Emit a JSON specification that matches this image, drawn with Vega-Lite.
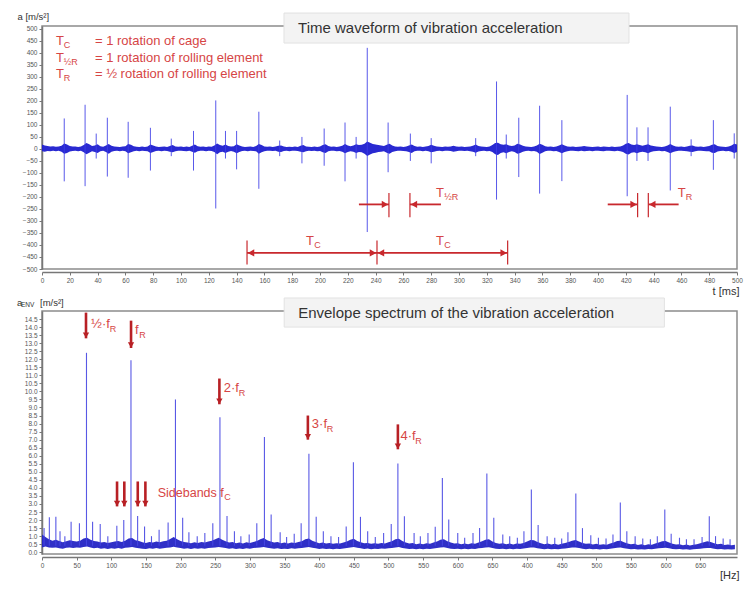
{
  "$schema": "https://vega.github.io/schema/vega-lite/v6.json",
  "background": "white",
  "padding": {"left": 16, "top": 10, "right": 5, "bottom": 5},
  "spacing": 42,
  "bounds": "flush",
  "config": {
    "view": {"stroke": "#8c8c8c", "strokeWidth": 1.5},
    "axis": {
      "grid": false,
      "labelFont": "Liberation Sans",
      "labelFontSize": 6.5,
      "labelColor": "#555555",
      "labelOverlap": false,
      "labelFlush": false,
      "tickColor": "#777777",
      "tickSize": 3,
      "tickCount": 200,
      "labelPadding": 2,
      "domainColor": "#777777",
      "domainWidth": 1.5,
      "titleFont": "Liberation Sans",
      "titleFontSize": 10,
      "titleFontWeight": "normal",
      "titleColor": "#333333"
    },
    "text": {"font": "Liberation Sans"}
  },
  "datasets": {
    "noise": [
      {"t":0,"lo":-10,"hi":18},{"t":2,"lo":-12,"hi":14},{"t":4,"lo":-9,"hi":12},{"t":6,"lo":-10,"hi":10},{"t":8,"lo":-8,"hi":11},
      {"t":10,"lo":-10,"hi":9},{"t":12,"lo":-8,"hi":10},{"t":14,"lo":-12,"hi":13},{"t":16,"lo":-20,"hi":23},{"t":18,"lo":-17,"hi":18},
      {"t":20,"lo":-11,"hi":12},{"t":22,"lo":-9,"hi":10},{"t":24,"lo":-8,"hi":10},{"t":26,"lo":-10,"hi":8},{"t":28,"lo":-8,"hi":10},
      {"t":30,"lo":-14,"hi":16},{"t":32,"lo":-22,"hi":25},{"t":34,"lo":-16,"hi":20},{"t":36,"lo":-10,"hi":12},{"t":38,"lo":-13,"hi":14},
      {"t":40,"lo":-17,"hi":20},{"t":42,"lo":-10,"hi":11},{"t":44,"lo":-8,"hi":9},{"t":46,"lo":-13,"hi":14},{"t":48,"lo":-20,"hi":21},
      {"t":50,"lo":-12,"hi":13},{"t":52,"lo":-9,"hi":10},{"t":54,"lo":-8,"hi":9},{"t":56,"lo":-10,"hi":8},{"t":58,"lo":-8,"hi":10},
      {"t":60,"lo":-10,"hi":11},{"t":62,"lo":-18,"hi":21},{"t":64,"lo":-14,"hi":17},{"t":66,"lo":-10,"hi":11},{"t":68,"lo":-8,"hi":9},
      {"t":70,"lo":-10,"hi":8},{"t":72,"lo":-8,"hi":10},{"t":74,"lo":-9,"hi":8},{"t":76,"lo":-10,"hi":10},{"t":78,"lo":-17,"hi":18},
      {"t":80,"lo":-13,"hi":14},{"t":82,"lo":-9,"hi":10},{"t":84,"lo":-8,"hi":8},{"t":86,"lo":-10,"hi":9},{"t":88,"lo":-8,"hi":10},
      {"t":90,"lo":-9,"hi":8},{"t":92,"lo":-12,"hi":12},{"t":94,"lo":-14,"hi":16},{"t":96,"lo":-10,"hi":10},{"t":98,"lo":-8,"hi":9},
      {"t":100,"lo":-8,"hi":10},{"t":102,"lo":-9,"hi":8},{"t":104,"lo":-10,"hi":10},{"t":106,"lo":-8,"hi":8},{"t":108,"lo":-12,"hi":13},
      {"t":110,"lo":-16,"hi":18},{"t":112,"lo":-10,"hi":11},{"t":114,"lo":-8,"hi":9},{"t":116,"lo":-8,"hi":10},{"t":118,"lo":-10,"hi":8},
      {"t":120,"lo":-8,"hi":10},{"t":122,"lo":-9,"hi":9},{"t":124,"lo":-13,"hi":14},{"t":126,"lo":-22,"hi":23},{"t":128,"lo":-14,"hi":16},
      {"t":130,"lo":-12,"hi":13},{"t":132,"lo":-17,"hi":18},{"t":134,"lo":-12,"hi":12},{"t":136,"lo":-9,"hi":10},{"t":138,"lo":-12,"hi":11},
      {"t":140,"lo":-18,"hi":20},{"t":142,"lo":-13,"hi":14},{"t":144,"lo":-9,"hi":10},{"t":146,"lo":-8,"hi":8},{"t":148,"lo":-10,"hi":9},
      {"t":150,"lo":-8,"hi":10},{"t":152,"lo":-9,"hi":8},{"t":154,"lo":-10,"hi":12},{"t":156,"lo":-20,"hi":21},{"t":158,"lo":-14,"hi":16},
      {"t":160,"lo":-10,"hi":10},{"t":162,"lo":-8,"hi":9},{"t":164,"lo":-8,"hi":10},{"t":166,"lo":-9,"hi":8},{"t":168,"lo":-8,"hi":10},
      {"t":170,"lo":-12,"hi":13},{"t":172,"lo":-13,"hi":14},{"t":174,"lo":-9,"hi":10},{"t":176,"lo":-8,"hi":8},{"t":178,"lo":-10,"hi":9},
      {"t":180,"lo":-8,"hi":8},{"t":182,"lo":-8,"hi":10},{"t":184,"lo":-9,"hi":8},{"t":186,"lo":-12,"hi":13},{"t":188,"lo":-14,"hi":16},
      {"t":190,"lo":-10,"hi":10},{"t":192,"lo":-8,"hi":9},{"t":194,"lo":-9,"hi":8},{"t":196,"lo":-8,"hi":10},{"t":198,"lo":-10,"hi":8},
      {"t":200,"lo":-9,"hi":10},{"t":202,"lo":-14,"hi":16},{"t":204,"lo":-17,"hi":20},{"t":206,"lo":-10,"hi":12},{"t":208,"lo":-8,"hi":9},
      {"t":210,"lo":-8,"hi":10},{"t":212,"lo":-10,"hi":8},{"t":214,"lo":-9,"hi":10},{"t":216,"lo":-12,"hi":13},{"t":218,"lo":-18,"hi":21},
      {"t":220,"lo":-13,"hi":14},{"t":222,"lo":-10,"hi":11},{"t":224,"lo":-12,"hi":14},{"t":226,"lo":-17,"hi":20},{"t":228,"lo":-13,"hi":16},
      {"t":230,"lo":-14,"hi":17},{"t":232,"lo":-20,"hi":22},{"t":234,"lo":-29,"hi":31},{"t":236,"lo":-23,"hi":26},{"t":238,"lo":-18,"hi":21},
      {"t":240,"lo":-16,"hi":18},{"t":242,"lo":-13,"hi":16},{"t":244,"lo":-12,"hi":14},{"t":246,"lo":-10,"hi":12},{"t":248,"lo":-16,"hi":17},
      {"t":250,"lo":-20,"hi":22},{"t":252,"lo":-13,"hi":14},{"t":254,"lo":-10,"hi":10},{"t":256,"lo":-8,"hi":9},{"t":258,"lo":-8,"hi":10},
      {"t":260,"lo":-9,"hi":8},{"t":262,"lo":-10,"hi":10},{"t":264,"lo":-13,"hi":14},{"t":266,"lo":-17,"hi":18},{"t":268,"lo":-10,"hi":12},
      {"t":270,"lo":-8,"hi":9},{"t":272,"lo":-8,"hi":10},{"t":274,"lo":-10,"hi":8},{"t":276,"lo":-8,"hi":10},{"t":278,"lo":-10,"hi":12},
      {"t":280,"lo":-14,"hi":17},{"t":282,"lo":-12,"hi":13},{"t":284,"lo":-9,"hi":10},{"t":286,"lo":-8,"hi":9},{"t":288,"lo":-10,"hi":8},
      {"t":290,"lo":-8,"hi":10},{"t":292,"lo":-8,"hi":9},{"t":294,"lo":-9,"hi":10},{"t":296,"lo":-12,"hi":13},{"t":298,"lo":-10,"hi":10},
      {"t":300,"lo":-8,"hi":9},{"t":302,"lo":-8,"hi":10},{"t":304,"lo":-9,"hi":8},{"t":306,"lo":-8,"hi":9},{"t":308,"lo":-10,"hi":10},
      {"t":310,"lo":-12,"hi":13},{"t":312,"lo":-16,"hi":18},{"t":314,"lo":-11,"hi":12},{"t":316,"lo":-9,"hi":10},{"t":318,"lo":-8,"hi":9},
      {"t":320,"lo":-10,"hi":8},{"t":322,"lo":-9,"hi":10},{"t":324,"lo":-13,"hi":16},{"t":326,"lo":-22,"hi":25},{"t":328,"lo":-25,"hi":26},
      {"t":330,"lo":-17,"hi":20},{"t":332,"lo":-14,"hi":17},{"t":334,"lo":-18,"hi":20},{"t":336,"lo":-13,"hi":14},{"t":338,"lo":-10,"hi":12},
      {"t":340,"lo":-13,"hi":14},{"t":342,"lo":-20,"hi":22},{"t":344,"lo":-17,"hi":18},{"t":346,"lo":-12,"hi":13},{"t":348,"lo":-9,"hi":10},
      {"t":350,"lo":-8,"hi":9},{"t":352,"lo":-10,"hi":8},{"t":354,"lo":-9,"hi":10},{"t":356,"lo":-12,"hi":14},{"t":358,"lo":-21,"hi":22},
      {"t":360,"lo":-16,"hi":17},{"t":362,"lo":-10,"hi":11},{"t":364,"lo":-8,"hi":9},{"t":366,"lo":-8,"hi":10},{"t":368,"lo":-10,"hi":8},
      {"t":370,"lo":-9,"hi":10},{"t":372,"lo":-13,"hi":14},{"t":374,"lo":-18,"hi":20},{"t":376,"lo":-13,"hi":14},{"t":378,"lo":-10,"hi":10},
      {"t":380,"lo":-8,"hi":9},{"t":382,"lo":-8,"hi":10},{"t":384,"lo":-9,"hi":8},{"t":386,"lo":-10,"hi":9},{"t":388,"lo":-8,"hi":10},
      {"t":390,"lo":-10,"hi":12},{"t":392,"lo":-9,"hi":10},{"t":394,"lo":-8,"hi":9},{"t":396,"lo":-10,"hi":8},{"t":398,"lo":-8,"hi":9},
      {"t":400,"lo":-8,"hi":10},{"t":402,"lo":-9,"hi":8},{"t":404,"lo":-10,"hi":10},{"t":406,"lo":-8,"hi":9},{"t":408,"lo":-8,"hi":8},
      {"t":410,"lo":-9,"hi":10},{"t":412,"lo":-10,"hi":8},{"t":414,"lo":-8,"hi":9},{"t":416,"lo":-10,"hi":10},{"t":418,"lo":-13,"hi":14},
      {"t":420,"lo":-20,"hi":22},{"t":422,"lo":-23,"hi":25},{"t":424,"lo":-16,"hi":18},{"t":426,"lo":-14,"hi":16},{"t":428,"lo":-18,"hi":20},
      {"t":430,"lo":-14,"hi":16},{"t":432,"lo":-12,"hi":13},{"t":434,"lo":-14,"hi":16},{"t":436,"lo":-18,"hi":20},{"t":438,"lo":-13,"hi":14},
      {"t":440,"lo":-10,"hi":12},{"t":442,"lo":-9,"hi":10},{"t":444,"lo":-8,"hi":9},{"t":446,"lo":-10,"hi":8},{"t":448,"lo":-9,"hi":10},
      {"t":450,"lo":-13,"hi":14},{"t":452,"lo":-18,"hi":21},{"t":454,"lo":-13,"hi":14},{"t":456,"lo":-10,"hi":10},{"t":458,"lo":-8,"hi":9},
      {"t":460,"lo":-8,"hi":10},{"t":462,"lo":-9,"hi":8},{"t":464,"lo":-10,"hi":10},{"t":466,"lo":-12,"hi":13},{"t":468,"lo":-13,"hi":14},
      {"t":470,"lo":-10,"hi":10},{"t":472,"lo":-8,"hi":9},{"t":474,"lo":-8,"hi":10},{"t":476,"lo":-9,"hi":8},{"t":478,"lo":-10,"hi":10},
      {"t":480,"lo":-10,"hi":12},{"t":482,"lo":-16,"hi":17},{"t":484,"lo":-17,"hi":20},{"t":486,"lo":-11,"hi":12},{"t":488,"lo":-9,"hi":10},
      {"t":490,"lo":-8,"hi":9},{"t":492,"lo":-10,"hi":8},{"t":494,"lo":-9,"hi":10},{"t":496,"lo":-12,"hi":14},{"t":498,"lo":-17,"hi":22},
      {"t":500,"lo":-13,"hi":18}
    ],
    "spikes": [
      {"t":16,"lo":-135,"hi":127},{"t":31,"lo":-155,"hi":184},{"t":39,"lo":-40,"hi":64},{"t":47,"lo":-115,"hi":130},
      {"t":62,"lo":-120,"hi":113},{"t":78,"lo":-90,"hi":88},{"t":93,"lo":-30,"hi":43},{"t":109,"lo":-90,"hi":75},
      {"t":125,"lo":-248,"hi":202},{"t":132,"lo":-40,"hi":75},{"t":140,"lo":-85,"hi":75},{"t":156,"lo":-166,"hi":155},
      {"t":171,"lo":-30,"hi":35},{"t":187,"lo":-60,"hi":50},{"t":203,"lo":-70,"hi":85},{"t":218,"lo":-135,"hi":110},
      {"t":226,"lo":-40,"hi":50},{"t":234,"lo":-346,"hi":421},{"t":249,"lo":-97,"hi":110},{"t":265,"lo":-50,"hi":64},
      {"t":280,"lo":-60,"hi":45},{"t":312,"lo":-30,"hi":45},{"t":327,"lo":-211,"hi":281},{"t":334,"lo":-40,"hi":60},
      {"t":343,"lo":-117,"hi":130},{"t":358,"lo":-186,"hi":180},{"t":374,"lo":-134,"hi":120},{"t":421,"lo":-197,"hi":225},
      {"t":428,"lo":-50,"hi":90},{"t":436,"lo":-50,"hi":90},{"t":452,"lo":-173,"hi":176},{"t":467,"lo":-30,"hi":40},
      {"t":483,"lo":-87,"hi":120},{"t":498,"lo":-40,"hi":65}
    ],
    "topShafts": [
      {"t1":147.5,"t2":335,"a":-433},
      {"t1":228,"t2":249.6,"a":-231},{"t1":264.7,"t2":287,"a":-231},
      {"t1":407,"t2":428.5,"a":-231},{"t1":436.2,"t2":458,"a":-231}
    ],
    "topTicks": [
      {"t":147.5,"a1":-381,"a2":-481},{"t":241,"a1":-381,"a2":-481},{"t":335,"a1":-381,"a2":-481},
      {"t":249.6,"a1":-183,"a2":-284},{"t":264.7,"a1":-183,"a2":-284},
      {"t":428.5,"a1":-183,"a2":-284},{"t":436.2,"a1":-183,"a2":-284}
    ],
    "topHeads": [
      {"t":147.5,"a":-433,"dir":"L"},{"t":241,"a":-433,"dir":"R"},{"t":241,"a":-433,"dir":"L"},{"t":335,"a":-433,"dir":"R"},
      {"t":249.6,"a":-231,"dir":"R"},{"t":264.7,"a":-231,"dir":"L"},
      {"t":428.5,"a":-231,"dir":"R"},{"t":436.2,"a":-231,"dir":"L"}
    ],
    "topText": [
      {"t":10,"a":449,"txt":"T"},{"t":10,"a":380,"txt":"T"},{"t":10,"a":311,"txt":"T"},
      {"t":38.1,"a":449,"txt":"= 1 rotation of cage"},
      {"t":38.1,"a":380,"txt":"= 1 rotation of rolling element"},
      {"t":38.1,"a":311,"txt":"= ½ rotation of rolling element"},
      {"t":283.5,"a":-183,"txt":"T"},{"t":457.3,"a":-183,"txt":"T"},
      {"t":190,"a":-384,"txt":"T"},{"t":283.5,"a":-384,"txt":"T"}
    ],
    "topSub": [
      {"t":15.6,"a":432,"txt":"C"},{"t":15.6,"a":363,"txt":"½R"},{"t":15.6,"a":294,"txt":"R"},
      {"t":289.3,"a":-200,"txt":"½R"},{"t":463.1,"a":-200,"txt":"R"},
      {"t":195.8,"a":-401,"txt":"C"},{"t":289.3,"a":-401,"txt":"C"}
    ],
    "spec": [
      {"f":0,"lo":0.3,"hi":1.1},{"f":5,"lo":0.35,"hi":0.95},{"f":10,"lo":0.3,"hi":0.8},{"f":15,"lo":0.28,"hi":0.72},{"f":20,"lo":0.3,"hi":0.78},
      {"f":25,"lo":0.25,"hi":0.7},{"f":30,"lo":0.22,"hi":0.62},{"f":35,"lo":0.28,"hi":0.68},{"f":40,"lo":0.3,"hi":0.75},{"f":45,"lo":0.26,"hi":0.7},
      {"f":50,"lo":0.3,"hi":0.66},{"f":55,"lo":0.28,"hi":0.72},{"f":60,"lo":0.32,"hi":0.85},{"f":65,"lo":0.35,"hi":0.9},{"f":70,"lo":0.3,"hi":0.78},
      {"f":75,"lo":0.25,"hi":0.7},{"f":80,"lo":0.28,"hi":0.66},{"f":85,"lo":0.22,"hi":0.6},{"f":90,"lo":0.25,"hi":0.64},{"f":95,"lo":0.2,"hi":0.58},
      {"f":100,"lo":0.24,"hi":0.62},{"f":105,"lo":0.22,"hi":0.66},{"f":110,"lo":0.26,"hi":0.7},{"f":115,"lo":0.22,"hi":0.64},{"f":120,"lo":0.28,"hi":0.72},
      {"f":125,"lo":0.3,"hi":0.85},{"f":130,"lo":0.32,"hi":0.88},{"f":135,"lo":0.28,"hi":0.75},{"f":140,"lo":0.25,"hi":0.7},{"f":145,"lo":0.22,"hi":0.62},
      {"f":150,"lo":0.2,"hi":0.58},{"f":155,"lo":0.24,"hi":0.64},{"f":160,"lo":0.22,"hi":0.6},{"f":165,"lo":0.26,"hi":0.66},{"f":170,"lo":0.22,"hi":0.62},
      {"f":175,"lo":0.25,"hi":0.68},{"f":180,"lo":0.28,"hi":0.72},{"f":185,"lo":0.3,"hi":0.82},{"f":190,"lo":0.34,"hi":0.95},{"f":195,"lo":0.3,"hi":0.8},
      {"f":200,"lo":0.26,"hi":0.7},{"f":205,"lo":0.22,"hi":0.64},{"f":210,"lo":0.25,"hi":0.6},{"f":215,"lo":0.2,"hi":0.56},{"f":220,"lo":0.24,"hi":0.62},
      {"f":225,"lo":0.22,"hi":0.58},{"f":230,"lo":0.25,"hi":0.64},{"f":235,"lo":0.22,"hi":0.6},{"f":240,"lo":0.26,"hi":0.66},{"f":245,"lo":0.28,"hi":0.72},
      {"f":250,"lo":0.3,"hi":0.8},{"f":255,"lo":0.33,"hi":0.9},{"f":260,"lo":0.3,"hi":0.78},{"f":265,"lo":0.26,"hi":0.68},{"f":270,"lo":0.22,"hi":0.6},
      {"f":275,"lo":0.25,"hi":0.64},{"f":280,"lo":0.2,"hi":0.56},{"f":285,"lo":0.23,"hi":0.6},{"f":290,"lo":0.2,"hi":0.55},{"f":295,"lo":0.24,"hi":0.62},
      {"f":300,"lo":0.22,"hi":0.58},{"f":305,"lo":0.26,"hi":0.64},{"f":310,"lo":0.28,"hi":0.7},{"f":315,"lo":0.3,"hi":0.8},{"f":320,"lo":0.32,"hi":0.88},
      {"f":325,"lo":0.28,"hi":0.74},{"f":330,"lo":0.24,"hi":0.66},{"f":335,"lo":0.22,"hi":0.6},{"f":340,"lo":0.25,"hi":0.64},{"f":345,"lo":0.2,"hi":0.56},
      {"f":350,"lo":0.22,"hi":0.6},{"f":355,"lo":0.2,"hi":0.54},{"f":360,"lo":0.24,"hi":0.6},{"f":365,"lo":0.22,"hi":0.58},{"f":370,"lo":0.25,"hi":0.64},
      {"f":375,"lo":0.27,"hi":0.68},{"f":380,"lo":0.3,"hi":0.8},{"f":385,"lo":0.32,"hi":0.86},{"f":390,"lo":0.28,"hi":0.72},{"f":395,"lo":0.24,"hi":0.64},
      {"f":400,"lo":0.2,"hi":0.56},{"f":405,"lo":0.23,"hi":0.6},{"f":410,"lo":0.2,"hi":0.54},{"f":415,"lo":0.22,"hi":0.58},{"f":420,"lo":0.19,"hi":0.52},
      {"f":425,"lo":0.22,"hi":0.56},{"f":430,"lo":0.2,"hi":0.54},{"f":435,"lo":0.23,"hi":0.6},{"f":440,"lo":0.26,"hi":0.66},{"f":445,"lo":0.3,"hi":0.78},
      {"f":450,"lo":0.32,"hi":0.84},{"f":455,"lo":0.28,"hi":0.7},{"f":460,"lo":0.24,"hi":0.62},{"f":465,"lo":0.2,"hi":0.56},{"f":470,"lo":0.23,"hi":0.58},
      {"f":475,"lo":0.19,"hi":0.52},{"f":480,"lo":0.22,"hi":0.56},{"f":485,"lo":0.2,"hi":0.52},{"f":490,"lo":0.23,"hi":0.58},{"f":495,"lo":0.21,"hi":0.55},
      {"f":500,"lo":0.24,"hi":0.62},{"f":505,"lo":0.27,"hi":0.68},{"f":510,"lo":0.3,"hi":0.8},{"f":515,"lo":0.32,"hi":0.84},{"f":520,"lo":0.27,"hi":0.7},
      {"f":525,"lo":0.23,"hi":0.6},{"f":530,"lo":0.2,"hi":0.54},{"f":535,"lo":0.22,"hi":0.58},{"f":540,"lo":0.19,"hi":0.5},{"f":545,"lo":0.21,"hi":0.55},
      {"f":550,"lo":0.18,"hi":0.5},{"f":555,"lo":0.22,"hi":0.56},{"f":560,"lo":0.2,"hi":0.52},{"f":565,"lo":0.23,"hi":0.6},{"f":570,"lo":0.26,"hi":0.66},
      {"f":575,"lo":0.3,"hi":0.78},{"f":580,"lo":0.31,"hi":0.8},{"f":585,"lo":0.26,"hi":0.68},{"f":590,"lo":0.22,"hi":0.6},{"f":595,"lo":0.2,"hi":0.54},
      {"f":600,"lo":0.22,"hi":0.56},{"f":605,"lo":0.18,"hi":0.5},{"f":610,"lo":0.21,"hi":0.54},{"f":615,"lo":0.19,"hi":0.5},{"f":620,"lo":0.22,"hi":0.56},
      {"f":625,"lo":0.2,"hi":0.52},{"f":630,"lo":0.24,"hi":0.6},{"f":635,"lo":0.27,"hi":0.68},{"f":640,"lo":0.3,"hi":0.78},{"f":645,"lo":0.31,"hi":0.8},
      {"f":650,"lo":0.26,"hi":0.66},{"f":655,"lo":0.22,"hi":0.58},{"f":660,"lo":0.2,"hi":0.52},{"f":665,"lo":0.22,"hi":0.56},{"f":670,"lo":0.18,"hi":0.5},
      {"f":675,"lo":0.21,"hi":0.54},{"f":680,"lo":0.19,"hi":0.48},{"f":685,"lo":0.22,"hi":0.54},{"f":690,"lo":0.2,"hi":0.52},{"f":695,"lo":0.23,"hi":0.58},
      {"f":700,"lo":0.27,"hi":0.66},{"f":705,"lo":0.3,"hi":0.76},{"f":710,"lo":0.29,"hi":0.74},{"f":715,"lo":0.25,"hi":0.64},{"f":720,"lo":0.21,"hi":0.56},
      {"f":725,"lo":0.19,"hi":0.5},{"f":730,"lo":0.21,"hi":0.54},{"f":735,"lo":0.18,"hi":0.48},{"f":740,"lo":0.2,"hi":0.52},{"f":745,"lo":0.18,"hi":0.47},
      {"f":750,"lo":0.21,"hi":0.53},{"f":755,"lo":0.23,"hi":0.58},{"f":760,"lo":0.26,"hi":0.64},{"f":765,"lo":0.29,"hi":0.72},{"f":770,"lo":0.3,"hi":0.76},
      {"f":775,"lo":0.26,"hi":0.66},{"f":780,"lo":0.22,"hi":0.58},{"f":785,"lo":0.19,"hi":0.52},{"f":790,"lo":0.21,"hi":0.55},{"f":795,"lo":0.18,"hi":0.48},
      {"f":800,"lo":0.2,"hi":0.52},{"f":805,"lo":0.17,"hi":0.46},{"f":810,"lo":0.2,"hi":0.5},{"f":815,"lo":0.18,"hi":0.47},{"f":820,"lo":0.21,"hi":0.54},
      {"f":825,"lo":0.24,"hi":0.6},{"f":830,"lo":0.28,"hi":0.7},{"f":835,"lo":0.29,"hi":0.72},{"f":840,"lo":0.25,"hi":0.62},{"f":845,"lo":0.21,"hi":0.55},
      {"f":850,"lo":0.19,"hi":0.5},{"f":855,"lo":0.2,"hi":0.52},{"f":860,"lo":0.17,"hi":0.45},{"f":865,"lo":0.19,"hi":0.49},{"f":870,"lo":0.17,"hi":0.44},
      {"f":875,"lo":0.2,"hi":0.5},{"f":880,"lo":0.18,"hi":0.47},{"f":885,"lo":0.21,"hi":0.54},{"f":890,"lo":0.24,"hi":0.6},{"f":895,"lo":0.27,"hi":0.68},
      {"f":900,"lo":0.28,"hi":0.7},{"f":905,"lo":0.24,"hi":0.6},{"f":910,"lo":0.2,"hi":0.52},{"f":915,"lo":0.18,"hi":0.48},{"f":920,"lo":0.2,"hi":0.5},
      {"f":925,"lo":0.17,"hi":0.44},{"f":930,"lo":0.19,"hi":0.48},{"f":935,"lo":0.16,"hi":0.42},{"f":940,"lo":0.18,"hi":0.46},{"f":945,"lo":0.2,"hi":0.5},
      {"f":950,"lo":0.22,"hi":0.56},{"f":955,"lo":0.25,"hi":0.62},{"f":960,"lo":0.27,"hi":0.68},{"f":965,"lo":0.26,"hi":0.64},{"f":970,"lo":0.22,"hi":0.56},
      {"f":975,"lo":0.19,"hi":0.5},{"f":980,"lo":0.2,"hi":0.52},{"f":985,"lo":0.17,"hi":0.45},{"f":990,"lo":0.19,"hi":0.48},{"f":995,"lo":0.17,"hi":0.44},
      {"f":1000,"lo":0.18,"hi":0.46}
    ],
    "peaks": [
      {"f":64.2,"v":12.4},{"f":128.4,"v":11.93},{"f":192.6,"v":9.5},{"f":256.8,"v":8.4},{"f":321,"v":7.17},
      {"f":385.2,"v":6.12},{"f":449.4,"v":5.6},{"f":513.6,"v":5.52},{"f":577.8,"v":4.62},{"f":642,"v":4.9},
      {"f":706.2,"v":3.9},{"f":770.4,"v":3.65},{"f":834.6,"v":3.1},{"f":898.8,"v":2.65},{"f":963,"v":2.24},
      {"f":3,"v":1.5},{"f":10.6,"v":2.18},{"f":20,"v":2.2},{"f":26,"v":1.3},{"f":33,"v":1.0},{"f":42,"v":1.9},
      {"f":54,"v":1.8},{"f":73,"v":1.9},{"f":84,"v":1.75},{"f":95,"v":1.0},{"f":108,"v":1.65},{"f":118,"v":2.0},
      {"f":138,"v":2.25},{"f":148,"v":1.6},{"f":158,"v":1.0},{"f":169,"v":1.4},{"f":182,"v":1.85},{"f":203,"v":2.15},
      {"f":212,"v":1.25},{"f":224,"v":1.0},{"f":235,"v":1.2},{"f":246.5,"v":1.8},{"f":267,"v":2.25},{"f":277.7,"v":1.3},
      {"f":287,"v":1.0},{"f":299,"v":1.1},{"f":310,"v":1.8},{"f":330.7,"v":2.35},{"f":343.7,"v":1.25},{"f":353,"v":0.95},
      {"f":364,"v":1.15},{"f":374,"v":1.8},{"f":395.7,"v":2.2},{"f":406,"v":1.3},{"f":417,"v":1.0},{"f":428,"v":0.95},
      {"f":439,"v":1.6},{"f":459.6,"v":2.2},{"f":470,"v":1.3},{"f":481,"v":0.95},{"f":493,"v":1.2},{"f":504,"v":1.76},
      {"f":523,"v":2.24},{"f":537,"v":1.2},{"f":546,"v":1.0},{"f":557,"v":1.2},{"f":567.5,"v":1.58},{"f":587,"v":2.03},
      {"f":600,"v":1.2},{"f":610,"v":0.9},{"f":622,"v":1.2},{"f":631.5,"v":1.5},{"f":652,"v":2.14},{"f":665,"v":1.1},
      {"f":675,"v":1.0},{"f":686,"v":0.9},{"f":695.5,"v":1.3},{"f":716,"v":1.7},{"f":729,"v":1.0},{"f":740,"v":0.9},
      {"f":750,"v":0.85},{"f":759,"v":1.25},{"f":780,"v":1.5},{"f":792,"v":1.05},{"f":803,"v":0.9},{"f":814,"v":0.85},
      {"f":824,"v":1.1},{"f":844,"v":1.3},{"f":856,"v":1.0},{"f":867,"v":0.85},{"f":878,"v":0.8},{"f":888,"v":1.0},
      {"f":908,"v":1.15},{"f":920,"v":0.9},{"f":930,"v":0.8},{"f":941,"v":0.8},{"f":952.6,"v":0.95},{"f":972,"v":1.0},
      {"f":983,"v":0.85},{"f":993,"v":0.8}
    ],
    "botArrows": [
      {"f":63.5,"v1":14.9,"v2":13.3},{"f":128.5,"v1":14.4,"v2":12.7},{"f":256,"v1":10.8,"v2":9.2},
      {"f":383.7,"v1":8.5,"v2":7.0},{"f":513.6,"v1":7.95,"v2":6.4},
      {"f":108.3,"v1":4.4,"v2":2.85},{"f":118.8,"v1":4.4,"v2":2.85},{"f":138.2,"v1":4.4,"v2":2.85},{"f":149.2,"v1":4.4,"v2":2.85}
    ],
    "botText": [
      {"f":70.8,"v":14.19,"txt":"½·f"},{"f":134.3,"v":13.8,"txt":"f"},{"f":262.3,"v":10.22,"txt":"2·f"},
      {"f":389.4,"v":7.95,"txt":"3·f"},{"f":517.4,"v":7.22,"txt":"4·f"}
    ],
    "botSub": [
      {"f":97.8,"v":13.9,"txt":"R"},{"f":140.3,"v":13.5,"txt":"R"},{"f":283.8,"v":9.92,"txt":"R"},
      {"f":410.9,"v":7.65,"txt":"R"},{"f":538.8,"v":6.92,"txt":"R"},{"f":263,"v":3.42,"txt":"C"}
    ]
  },
  "vconcat": [
    {
      "width": 695,
      "height": 243,
      "layer": [
        {
          "data": {"name": "noise"},
          "mark": {"type": "area", "color": "#1e1ecf", "opacity": 0.95},
          "encoding": {
            "x": {
              "field": "t", "type": "quantitative",
              "scale": {"domain": [0, 500], "nice": false},
              "axis": {
                "values": [0,20,40,60,80,100,120,140,160,180,200,220,240,260,280,300,320,340,360,380,400,420,440,460,480,500],
                "tickCount": 200, "labelOverlap": false, "labelFlush": false,
                "title": "t [ms]", "offset": 3, "titleX": 697, "titleY": 19, "titleAlign": "right",
                "titleBaseline": "middle", "titleFontSize": 11
              }
            },
            "y": {
              "field": "hi", "type": "quantitative",
              "scale": {"domain": [-500, 512], "nice": false, "zero": false},
              "axis": {
                "values": [-500,-450,-400,-350,-300,-250,-200,-150,-100,-50,0,50,100,150,200,250,300,350,400,450,500],
                "tickCount": 200, "labelOverlap": false, "labelFlush": false,
                "title": "a [m/s²]", "titleAngle": 0, "titleX": -25, "titleY": -10,
                "titleAlign": "left", "titleBaseline": "middle", "titleFontSize": 9.5
              }
            },
            "y2": {"field": "lo"}
          }
        },
        {
          "data": {"name": "spikes"},
          "mark": {"type": "rule", "color": "#3c3ce6", "strokeWidth": 1, "opacity": 0.85},
          "encoding": {
            "x": {"field": "t", "type": "quantitative"},
            "y": {"field": "lo", "type": "quantitative"},
            "y2": {"field": "hi"}
          }
        },
        {
          "data": {"name": "topShafts"},
          "mark": {"type": "rule", "color": "#c8282d", "strokeWidth": 1.8},
          "encoding": {
            "x": {"field": "t1", "type": "quantitative"},
            "x2": {"field": "t2"},
            "y": {"field": "a", "type": "quantitative"}
          }
        },
        {
          "data": {"name": "topTicks"},
          "mark": {"type": "rule", "color": "#c8282d", "strokeWidth": 1.2},
          "encoding": {
            "x": {"field": "t", "type": "quantitative"},
            "y": {"field": "a1", "type": "quantitative"},
            "y2": {"field": "a2"}
          }
        },
        {
          "data": {"name": "topHeads"},
          "transform": [{"filter": "datum.dir == 'R'"}],
          "mark": {"type": "point", "shape": "triangle-right", "filled": true, "color": "#c8282d", "size": 55, "opacity": 1, "xOffset": -4},
          "encoding": {
            "x": {"field": "t", "type": "quantitative"},
            "y": {"field": "a", "type": "quantitative"}
          }
        },
        {
          "data": {"name": "topHeads"},
          "transform": [{"filter": "datum.dir == 'L'"}],
          "mark": {"type": "point", "shape": "triangle-left", "filled": true, "color": "#c8282d", "size": 55, "opacity": 1, "xOffset": 4},
          "encoding": {
            "x": {"field": "t", "type": "quantitative"},
            "y": {"field": "a", "type": "quantitative"}
          }
        },
        {
          "data": {"values": [{"t1": 174.1, "t2": 422.3, "a1": 441, "a2": 566}]},
          "mark": {"type": "rect", "fill": "#f3f3f3", "stroke": "#e2e2e2", "strokeWidth": 1},
          "encoding": {
            "x": {"field": "t1", "type": "quantitative"},
            "x2": {"field": "t2"},
            "y": {"field": "a1", "type": "quantitative"},
            "y2": {"field": "a2"}
          }
        },
        {
          "data": {"values": [{"t": 184.2, "a": 503.5, "txt": "Time waveform of vibration acceleration"}]},
          "mark": {"type": "text", "align": "left", "baseline": "middle", "fontSize": 15, "color": "#333333"},
          "encoding": {
            "x": {"field": "t", "type": "quantitative"},
            "y": {"field": "a", "type": "quantitative"},
            "text": {"field": "txt"}
          }
        },
        {
          "data": {"name": "topText"},
          "mark": {"type": "text", "align": "left", "baseline": "middle", "fontSize": 13, "color": "#d64545"},
          "encoding": {
            "x": {"field": "t", "type": "quantitative"},
            "y": {"field": "a", "type": "quantitative"},
            "text": {"field": "txt"}
          }
        },
        {
          "data": {"name": "topSub"},
          "mark": {"type": "text", "align": "left", "baseline": "middle", "fontSize": 9, "color": "#d64545"},
          "encoding": {
            "x": {"field": "t", "type": "quantitative"},
            "y": {"field": "a", "type": "quantitative"},
            "text": {"field": "txt"}
          }
        }
      ]
    },
    {
      "width": 695,
      "height": 243,
      "layer": [
        {
          "data": {"name": "spec"},
          "mark": {"type": "area", "color": "#2424c4", "opacity": 0.95},
          "encoding": {
            "x": {
              "field": "f", "type": "quantitative",
              "scale": {"domain": [0, 1003], "nice": false},
              "axis": {
                "values": [0,50,100,150,200,250,300,350,400,450,500,550,600,650,700,750,800,850,900,950],
                "labelExpr": "datum.value >= 700 ? datum.value - 300 : datum.value",
                "tickCount": 200, "labelOverlap": false, "labelFlush": false,
                "title": "[Hz]", "offset": 3, "titleX": 697, "titleY": 18, "titleAlign": "right",
                "titleBaseline": "middle", "titleFontSize": 11
              }
            },
            "y": {
              "field": "hi", "type": "quantitative",
              "scale": {"domain": [-0.11, 15], "nice": false, "zero": false},
              "axis": {
                "values": [0,0.5,1,1.5,2,2.5,3,3.5,4,4.5,5,5.5,6,6.5,7,7.5,8,8.5,9,9.5,10,10.5,11,11.5,12,12.5,13,13.5,14,14.5],
                "tickCount": 200, "labelOverlap": false, "labelFlush": false,
                "format": ".1f", "title": null
              }
            },
            "y2": {"field": "lo"}
          }
        },
        {
          "data": {"name": "peaks"},
          "mark": {"type": "rule", "color": "#4646e2", "strokeWidth": 1.1, "opacity": 0.9},
          "encoding": {
            "x": {"field": "f", "type": "quantitative"},
            "y": {"field": "v", "type": "quantitative"},
            "y2": {"datum": 0.4}
          }
        },
        {
          "data": {"name": "botArrows"},
          "mark": {"type": "rule", "color": "#b82025", "strokeWidth": 2.6},
          "encoding": {
            "x": {"field": "f", "type": "quantitative"},
            "y": {"field": "v1", "type": "quantitative"},
            "y2": {"field": "v2"}
          }
        },
        {
          "data": {"name": "botArrows"},
          "mark": {"type": "point", "shape": "triangle-down", "filled": true, "color": "#b82025", "size": 40, "opacity": 1, "yOffset": -3},
          "encoding": {
            "x": {"field": "f", "type": "quantitative"},
            "y": {"field": "v2", "type": "quantitative"}
          }
        },
        {
          "data": {"values": [{"f1": 349.5, "f2": 898.2, "v1": 14.0, "v2": 15.81}]},
          "mark": {"type": "rect", "fill": "#f3f3f3", "stroke": "#e2e2e2", "strokeWidth": 1},
          "encoding": {
            "x": {"field": "f1", "type": "quantitative"},
            "x2": {"field": "f2"},
            "y": {"field": "v1", "type": "quantitative"},
            "y2": {"field": "v2"}
          }
        },
        {
          "data": {"values": [{"f": 369.7, "v": 14.88, "txt": "Envelope spectrum of the vibration acceleration"}]},
          "mark": {"type": "text", "align": "left", "baseline": "middle", "fontSize": 15, "color": "#333333"},
          "encoding": {
            "x": {"field": "f", "type": "quantitative"},
            "y": {"field": "v", "type": "quantitative"},
            "text": {"field": "txt"}
          }
        },
        {
          "data": {"values": [{"f": -36.1, "v": 15.52, "txt": "a"}, {"f": -2.9, "v": 15.52, "txt": "[m/s²]"}]},
          "mark": {"type": "text", "align": "left", "baseline": "middle", "fontSize": 9.5, "color": "#333333"},
          "encoding": {
            "x": {"field": "f", "type": "quantitative"},
            "y": {"field": "v", "type": "quantitative"},
            "text": {"field": "txt"}
          }
        },
        {
          "data": {"values": [{"f": -30.3, "v": 15.4, "txt": "ENV"}]},
          "mark": {"type": "text", "align": "left", "baseline": "middle", "fontSize": 6.5, "color": "#333333"},
          "encoding": {
            "x": {"field": "f", "type": "quantitative"},
            "y": {"field": "v", "type": "quantitative"},
            "text": {"field": "txt"}
          }
        },
        {
          "data": {"name": "botText"},
          "mark": {"type": "text", "align": "left", "baseline": "middle", "fontSize": 13, "color": "#d64545"},
          "encoding": {
            "x": {"field": "f", "type": "quantitative"},
            "y": {"field": "v", "type": "quantitative"},
            "text": {"field": "txt"}
          }
        },
        {
          "data": {"values": [{"f": 167, "v": 3.69, "txt": "Sidebands f"}]},
          "mark": {"type": "text", "align": "left", "baseline": "middle", "fontSize": 12.5, "color": "#d64545"},
          "encoding": {
            "x": {"field": "f", "type": "quantitative"},
            "y": {"field": "v", "type": "quantitative"},
            "text": {"field": "txt"}
          }
        },
        {
          "data": {"name": "botSub"},
          "mark": {"type": "text", "align": "left", "baseline": "middle", "fontSize": 9, "color": "#d64545"},
          "encoding": {
            "x": {"field": "f", "type": "quantitative"},
            "y": {"field": "v", "type": "quantitative"},
            "text": {"field": "txt"}
          }
        }
      ]
    }
  ]
}
